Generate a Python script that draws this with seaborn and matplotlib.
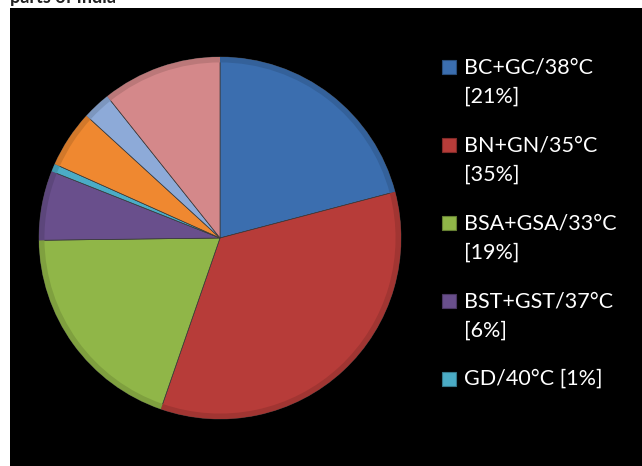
import matplotlib
matplotlib.use("Agg")
import matplotlib.pyplot as plt
import seaborn as sns
from matplotlib.patches import Rectangle

sns.set_theme(style="white")
plt.rcParams['font.family'] = ['Lato', 'DejaVu Sans']

# Data (share of each slice, clockwise from 12 o'clock)
categories = ["BC+GC/38°C", "BN+GN/35°C", "BSA+GSA/33°C", "BST+GST/37°C",
              "GD/40°C", "Other 1", "Other 2", "Other 3"]
values = [20.9, 34.4, 19.5, 6.2, 0.7, 5.1, 2.5, 10.7]
legend_labels = ["BC+GC/38°C\n[21%]", "BN+GN/35°C\n[35%]", "BSA+GSA/33°C\n[19%]",
                 "BST+GST/37°C\n[6%]", "GD/40°C [1%]"]
colors = sns.color_palette(["#3B6EAF", "#B73C39", "#90B648", "#694F8C",
                            "#4BACC6", "#EF8830", "#8DAAD8", "#D4888A"])
title = "parts of India"

W, H = 642, 466
fig = plt.figure(figsize=(W / 100, H / 100), dpi=100)
fig.patch.set_facecolor("white")

# black chart area
bg = fig.add_axes([10 / W, 0, (W - 10) / W, (H - 8) / H])
bg.set_facecolor("black")
bg.set_xticks([]); bg.set_yticks([])
for s in bg.spines.values():
    s.set_visible(False)

# pie
cx, cy, r = 220, 238, 181
pax = fig.add_axes([(cx - r) / W, (H - cy - r) / H, 2 * r / W, 2 * r / H])
pax.set_facecolor("none")
pax.pie(values, colors=colors, startangle=90, counterclock=False, radius=1.0,
        wedgeprops=dict(edgecolor="#3a3a3a", linewidth=0.5))
# subtle bevel: slightly darker rim ring
pax.pie(values, colors=[tuple(c * 0.88 for c in col) for col in colors],
        startangle=90, counterclock=False, radius=1.0,
        wedgeprops=dict(width=0.03, edgecolor="none", linewidth=0))
pax.set_xlim(-1, 1); pax.set_ylim(-1, 1)
pax.set_aspect("auto")
pax.axis("off")

# legend (manual, Office-style)
fs = 15.5
y0 = 67
for i, lab in enumerate(legend_labels):
    y = y0 + i * 78
    fig.patches.append(Rectangle((442 / W, (H - y - 7) / H), 14 / W, 14 / H,
                                 transform=fig.transFigure, facecolor=colors[i],
                                 edgecolor=tuple(c * 0.7 for c in colors[i]),
                                 linewidth=0.8))
    for j, ln in enumerate(lab.split("\n")):
        fig.text(464 / W, (H - (y + j * 30)) / H, ln, color="white",
                 fontsize=fs, va="center", ha="left")

# title, cut off at the top edge as in the reference
fig.text(10 / W, 1 - 3 / H, title, fontsize=13, fontweight="bold",
         color="#222222", va="baseline", ha="left")

fig.savefig("out.png", dpi=100, facecolor=fig.get_facecolor())
